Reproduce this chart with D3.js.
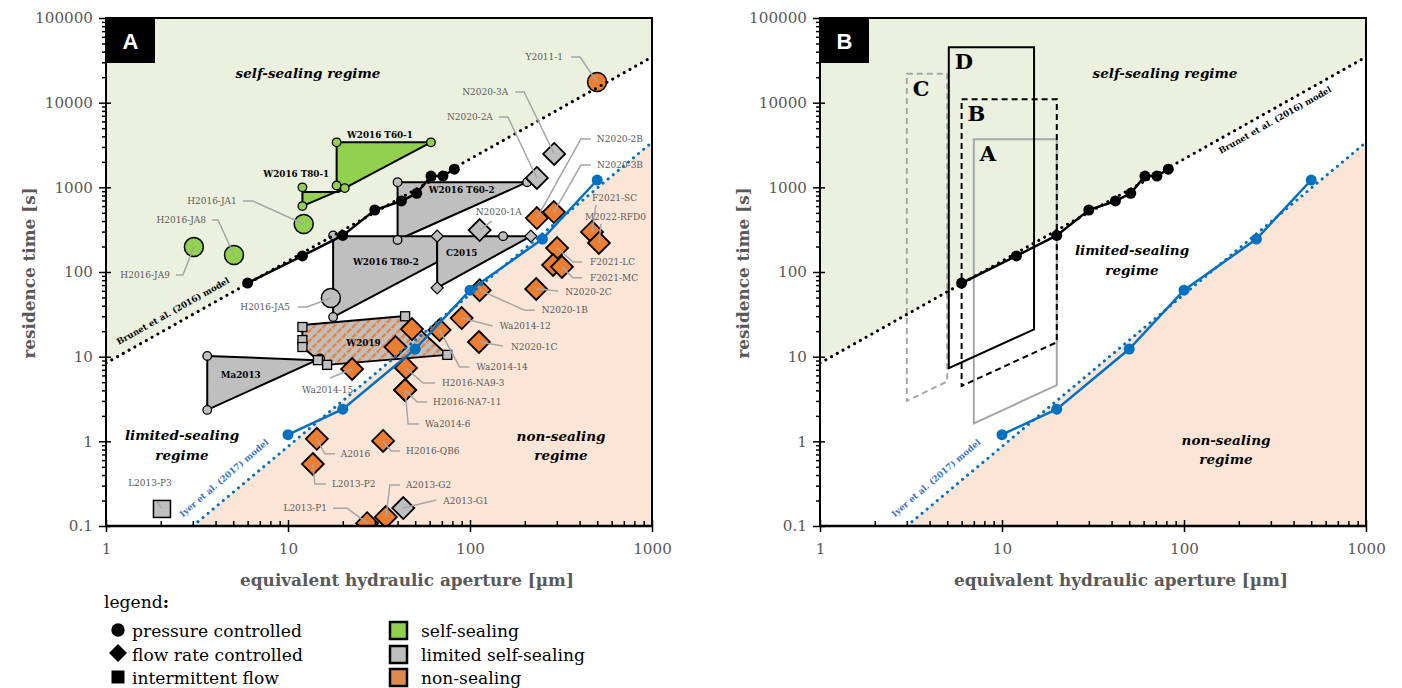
<!DOCTYPE html>
<html>
<head>
<meta charset="utf-8">
<script src="https://cdn.jsdelivr.net/npm/d3@7"></script>
<style>
  body { margin: 0; background: #fff; }
</style>
</head>
<body>
<svg id="chart" width="1402" height="688"></svg>
<script>
// ---- data (aperture in µm, residence time in s) ----
const brunetModelX = [1, 1000];
const brunetModelY = [8.4, 34600];
const iyerModelX = [3, 1000];
const iyerModelY = [0.1, 3400];

const brunetRunX = [6, 12, 20, 30, 42, 51, 61, 71, 82];
const brunetRunY = [74, 155, 270, 540, 690, 850, 1360, 1360, 1640];
const iyerRunX = [10, 20, 50, 100, 250, 500];
const iyerRunY = [1.2, 2.4, 12.3, 61, 245, 1220];

// experiment envelopes
const w2016T601 = [[18.5, 3400], [61, 3400], [20.5, 980], [18.5, 1050]];
const w2016T801 = [[12, 1000], [12, 880], [19, 880], [20.5, 980], [12, 600]];
const w2016T602 = [[40, 1150], [206, 1150], [40, 239]];
const w2016T802 = [[17.7, 265], [66, 265], [66, 131], [17.7, 29.4]];
const c2015 = [[66, 265], [216, 265], [66, 65]];
const ma2013 = [[3.6, 10.2], [14.4, 9.1], [3.6, 2.35]];
const w2019 = [[12, 23.7], [44, 30.2], [75, 10.5], [16.4, 8], [14.6, 9.1], [12, 13]];

const greenVertexCircles = [[18.5, 3400], [61, 3400], [18.5, 1050], [20.5, 980], [12, 1000], [12, 600]];
const grayVertexCircles = [[40, 1150], [206, 1150], [40, 239], [17.7, 270], [17.7, 29.4], [152, 265], [3.6, 10.2], [3.6, 2.35], [15, 9.5]];
const grayVertexDiamonds = [[66, 265], [216, 265], [66, 65]];
const grayVertexSquares = [[12, 22.4], [12, 15.7], [12, 13], [14.6, 9.1], [16.4, 8], [44, 30], [75, 10.5]];

const groupNames = ['W2016 T60-1', 'W2016 T80-1', 'W2016 T60-2', 'W2016 T80-2', 'C2015', 'Ma2013', 'W2019'];
const groupLabelX = [32, 11.1, 90, 34.5, 90, 5.5, 26];
const groupLabelY = [4150, 1440, 930, 131, 167, 6.1, 14.5];

// single tests
const diamondNames = ['N2020-1A', 'N2020-2A', 'N2020-3A', 'A2013-G1', 'N2020-2B', 'N2020-3B', 'F2021-SC', 'M2022-RFD0',
  'F2021-LC', '', 'F2021-MC', 'N2020-2C', 'N2020-1B', 'Wa2014-12', 'N2020-1C', 'Wa2014-14', '', '', 'H2016-NA9-3',
  'H2016-NA7-11', 'Wa2014-6', 'Wa2014-15', 'A2016', 'L2013-P2', 'H2016-QB6', 'L2013-P1', 'A2013-G2'];
const diamondX = [113, 233, 290, 43, 233, 289, 468, 511, 301, 286, 320, 231, 113, 90, 112, 68, 48, 39, 44.5,
  44, 44, 22.5, 14.4, 13.7, 33.3, 27.2, 34.5];
const diamondY = [313, 1290, 2480, 0.163, 434, 511, 297, 220, 192, 121, 115, 63, 61, 28.6, 14.9, 20.7, 21.2, 13, 7.35,
  4.04, 4.04, 7.15, 1.07, 0.54, 1.01, 0.108, 0.128];
const diamondRegime = ['limited', 'limited', 'limited', 'limited', 'non', 'non', 'non', 'non', 'non', 'non', 'non', 'non',
  'non', 'non', 'non', 'non', 'non', 'non', 'non', 'non', 'non', 'non', 'non', 'non', 'non', 'non', 'non'];

const circleNames = ['H2016-JA1', 'H2016-JA8', 'H2016-JA9', 'H2016-JA5', 'Y2011-1'];
const circleX = [12.2, 5.05, 3.04, 17.2, 499];
const circleY = [369, 159, 197, 49.3, 17540];
const circleRegime = ['self', 'self', 'self', 'limited', 'non'];

const squareNames = ['L2013-P3'];
const squareX = [2.03];
const squareY = [0.159];
const squareRegime = ['limited'];

// panel B envelopes
const boxA = [[7, 3700], [20, 3700], [20, 4.6], [7, 1.63]];
const boxB = [[6, 11000], [20, 11000], [20, 14.8], [6, 4.5]];
const boxC = [[3, 22000], [5, 22000], [5, 5.1], [3, 3]];
const boxD = [[5.1, 45000], [15, 45000], [15, 21], [5.1, 7.3]];

// ---- layout / style ----
const SERIF = '"DejaVu Serif", serif';
const fills = { self: '#92d050', limited: '#bfbfbf', non: '#ed7d31' };
const W = 546, H = 508;

// label offsets from the marker, px: [textDx, textDy, anchor, leader bends]
const annot = {
  'Y2011-1': [-34, -25, 'end', [[-26, -25], [-17, -25]]],
  'N2020-3A': [-46, -62, 'end', [[-39, -62], [-30, -62]]],
  'N2020-2A': [-44, -61, 'end', [[-38, -61], [-29, -61]]],
  'N2020-2B': [60, -79, 'start', [[54, -79], [44, -79]]],
  'N2020-3B': [43, -47, 'start', [[37, -47], [27, -47]]],
  'F2021-SC': [0, -34, 'start', [[4, -27]]],
  'M2022-RFD0': [-14, -26, 'start', [[2, -19]]],
  'F2021-LC': [33, 14, 'start', [[25, 14], [16, 14]]],
  'F2021-MC': [28, 11, 'start', [[20, 11], [11, 11]]],
  'N2020-2C': [29, 3, 'start', [[22, 2]]],
  'N2020-1B': [62, 20, 'start', [[55, 20], [45, 20]]],
  'Wa2014-12': [38, 8, 'start', [[31, 8]]],
  'N2020-1C': [32, 5, 'start', [[24, 4]]],
  'Wa2014-14': [37, 37, 'start', [[30, 37], [20, 37]]],
  'H2016-NA9-3': [36, 15, 'start', [[29, 15], [17, 15]]],
  'H2016-NA7-11': [28, 12, 'start', [[22, 12], [12, 12]]],
  'Wa2014-6': [20, 34, 'start', [[14, 34], [3, 34]]],
  'Wa2014-15': [-50, 21, 'start', [[-22, 9]]],
  'H2016-QB6': [23, 10, 'start', [[17, 10], [8, 10]]],
  'A2016': [24, 15, 'start', [[18, 15], [8, 15]]],
  'L2013-P2': [19, 20, 'start', [[13, 20], [2, 20]]],
  'L2013-P1': [-40, -15, 'end', [[-34, -15], [-20, -15]]],
  'A2013-G2': [20, -32, 'start', [[14, -32], [4, -32]]],
  'A2013-G1': [40, -7, 'start', [[33, -8]]],
  'L2013-P3': [-12, -26, 'middle', [[-5, -7]]],
  'H2016-JA5': [-41, 9, 'end', [[-33, 9], [-24, 9]]],
  'N2020-1A': [-4, -18, 'start', [[12, -9]]],
  'H2016-JA1': [-67, -23, 'end', [[-61, -23], [-51, -23]]],
  'H2016-JA8': [-28, -35, 'end', [[-22, -35], [-16, -35]]],
  'H2016-JA9': [-24, 28, 'end', [[-18, 28], [-11, 28]]]
};

const svg = d3.select('#chart');
const defs = svg.append('defs');

const x = d3.scaleLog().domain([1, 1000]).range([0, W]);
const y = d3.scaleLog().domain([0.1, 100000]).range([H, 0]);
const line = d3.line().x(d => x(d[0])).y(d => y(d[1]));
const zip = (a, b) => a.map((v, i) => [v, b[i]]);
const isMajor = v => Math.abs(Math.log10(v) - Math.round(Math.log10(v))) < 1e-6;

function fitSize(str, target, weight = 'normal', style = 'normal') {
  const t = svg.append('text').attr('font-family', SERIF).attr('font-size', 20)
    .attr('font-weight', weight).attr('font-style', style).text(str);
  const w = t.node().getComputedTextLength();
  t.remove();
  return 20 * target / w;
}

const titleSize = fitSize('equivalent hydraulic aperture [µm]', 334, 'bold');
const regimeSize = fitSize('self-sealing regime', 145, 'bold', 'italic');
const legendSize = fitSize('pressure controlled', 170);
const tickFont = fitSize('100', 29);
const ptSize = fitSize('N2020-3A', 46);
const groupSize = fitSize('W2016 T60-1', 66, 'bold');
const brunetSize = fitSize('Brunet et al. (2016) model', 128, 'bold');
const iyerSize = fitSize('Iyer et al. (2017) model', 114, 'bold');

const hatch = defs.append('pattern').attr('id', 'hatch').attr('patternUnits', 'userSpaceOnUse')
  .attr('width', 7).attr('height', 7).attr('patternTransform', 'rotate(45)');
hatch.append('rect').attr('width', 7).attr('height', 7).attr('fill', '#bfbfbf');
hatch.append('line').attr('x1', 1).attr('y1', 0).attr('x2', 1).attr('y2', 7)
  .attr('stroke', '#ed7d31').attr('stroke-width', 2.5).attr('stroke-dasharray', '3,1.5');

defs.append('clipPath').attr('id', 'plotClip').append('rect').attr('width', W).attr('height', H);

const diamondPath = h => `M0,${-h}L${h},0L0,${h}L${-h},0Z`;

function text(g, px, py, str, size, opts = {}) {
  return g.append('text').attr('x', px).attr('y', py).attr('dy', '0.35em')
    .attr('text-anchor', opts.anchor || 'middle')
    .attr('font-family', SERIF).attr('font-size', size)
    .attr('font-weight', opts.weight || 'normal').attr('font-style', opts.style || 'normal')
    .attr('fill', opts.fill || '#000').text(str);
}

function panel(ox, letter, under, over, regimes, brunetPos, iyerPos) {
  const g = svg.append('g').attr('transform', `translate(${ox},18)`);
  const c = g.append('g').attr('clip-path', 'url(#plotClip)');

  c.append('rect').attr('width', W).attr('height', H).attr('fill', '#fff');
  const bm = zip(brunetModelX, brunetModelY);
  const im = zip(iyerModelX, iyerModelY);
  c.append('path').attr('d', line(bm.concat([[1000, 100000], [1, 100000]])) + 'Z').attr('fill', '#ebf1de');
  c.append('path').attr('d', line(im.concat([[1000, 0.1]])) + 'Z').attr('fill', '#fbe5d6');

  under(c);

  // model lines
  c.append('path').attr('d', line(bm)).attr('fill', 'none').attr('stroke', '#000')
    .attr('stroke-width', 3).attr('stroke-linecap', 'round').attr('stroke-dasharray', '0.1,6.5');
  c.append('path').attr('d', line(im)).attr('fill', 'none').attr('stroke', '#0070c0')
    .attr('stroke-width', 3).attr('stroke-linecap', 'round').attr('stroke-dasharray', '0.1,6.5');

  // experimental runs
  [[zip(brunetRunX, brunetRunY), '#000'], [zip(iyerRunX, iyerRunY), '#0070c0']].forEach(([pts, col]) => {
    c.append('path').attr('d', line(pts)).attr('fill', 'none').attr('stroke', col).attr('stroke-width', 2.5);
    c.selectAll(null).data(pts).enter().append('circle')
      .attr('cx', d => x(d[0])).attr('cy', d => y(d[1])).attr('r', 5.5).attr('fill', col);
  });

  over(g);

  // regime labels
  regimes.forEach(r => text(g, r[0], r[1], r[2], regimeSize, { weight: 'bold', style: 'italic' }));
  text(g, brunetPos[0], brunetPos[1], 'Brunet et al. (2016) model', brunetSize, { weight: 'bold' })
    .attr('transform', `rotate(-29.4,${brunetPos[0]},${brunetPos[1]})`);
  text(g, iyerPos[0], iyerPos[1], 'Iyer et al. (2017) model', iyerSize, { weight: 'bold', fill: '#3a73c6' })
    .attr('transform', `rotate(-40.7,${iyerPos[0]},${iyerPos[1]})`);

  // axes
  const yAll = [];
  for (let e = -1; e < 5; e++) for (let m = 1; m < 10; m++) yAll.push(+(m * Math.pow(10, e)).toPrecision(3));
  yAll.push(100000);
  const xAll = [];
  for (let e = 0; e < 3; e++) for (let m = 1; m < 10; m++) xAll.push(m * Math.pow(10, e));
  xAll.push(1000);

  const ya = g.append('g').call(d3.axisLeft(y).tickValues(yAll).tickSize(4).tickSizeOuter(0).tickPadding(9)
    .tickFormat(v => isMajor(v) ? (v < 1 ? '0.1' : d3.format('d')(v)) : ''));
  ya.selectAll('.tick line').attr('x2', v => isMajor(v) ? -7 : -4).attr('x1', v => isMajor(v) ? 5 : 0)
    .attr('stroke-width', 1.5);
  const xa = g.append('g').attr('transform', `translate(0,${H})`)
    .call(d3.axisBottom(x).tickValues(xAll).tickSize(-5).tickSizeOuter(0).tickPadding(17)
      .tickFormat(v => isMajor(v) ? d3.format('d')(v) : ''));
  xa.selectAll('.tick line').attr('y2', v => isMajor(v) ? -6 : -5).attr('y1', v => isMajor(v) ? 6 : 0)
    .attr('stroke-width', 1.5);
  [ya, xa].forEach(a => {
    a.select('.domain').remove();
    a.selectAll('text').attr('font-family', SERIF).attr('font-size', tickFont).attr('fill', '#595959');
  });
  g.append('rect').attr('width', W).attr('height', H).attr('fill', 'none').attr('stroke', '#000').attr('stroke-width', 2);
  g.append('line').attr('x1', 0).attr('x2', W).attr('y1', H).attr('y2', H).attr('stroke', '#000').attr('stroke-width', 2.5);

  text(g, W / 2 + 28, 562, 'equivalent hydraulic aperture [µm]', titleSize, { weight: 'bold', fill: '#595959' });
  text(g, -77, H / 2 + 1, 'residence time [s]', titleSize, { weight: 'bold', fill: '#595959' })
    .attr('transform', `rotate(-90,-77,${H / 2 + 1})`);

  // panel tag
  g.append('rect').attr('width', 49).attr('height', 45).attr('fill', '#000');
  g.append('text').attr('x', 24.5).attr('y', 23).attr('dy', '0.36em').attr('text-anchor', 'middle')
    .attr('font-family', '"Liberation Sans", Arial, sans-serif').attr('font-weight', 'bold')
    .attr('font-size', 22).attr('fill', '#fff').text(letter);
  return g;
}

// ---- panel A ----
panel(106, 'A', c => {
  const polys = [[w2016T602, fills.limited], [w2016T802, fills.limited], [c2015, fills.limited],
    [ma2013, fills.limited], [w2019, 'url(#hatch)'], [w2016T601, fills.self], [w2016T801, fills.self]];
  polys.forEach(([pts, f]) => c.append('path').attr('d', line(pts) + 'Z').attr('fill', f)
    .attr('stroke', '#000').attr('stroke-width', 2).attr('stroke-linejoin', 'round'));

  c.selectAll(null).data(greenVertexCircles).enter().append('circle')
    .attr('cx', d => x(d[0])).attr('cy', d => y(d[1])).attr('r', 4.3)
    .attr('fill', fills.self).attr('stroke', '#000').attr('stroke-width', 1.3);
  c.selectAll(null).data(grayVertexCircles).enter().append('circle')
    .attr('cx', d => x(d[0])).attr('cy', d => y(d[1])).attr('r', 4.3)
    .attr('fill', fills.limited).attr('stroke', '#000').attr('stroke-width', 1.3);
  c.selectAll(null).data(grayVertexDiamonds).enter().append('path')
    .attr('transform', d => `translate(${x(d[0])},${y(d[1])})`).attr('d', diamondPath(6))
    .attr('fill', fills.limited).attr('stroke', '#000').attr('stroke-width', 1.3);
  c.selectAll(null).data(grayVertexSquares).enter().append('rect')
    .attr('x', d => x(d[0]) - 4.5).attr('y', d => y(d[1]) - 4.5).attr('width', 9).attr('height', 9)
    .attr('fill', fills.limited).attr('stroke', '#000').attr('stroke-width', 1.3);

  diamondX.forEach((v, i) => c.append('path')
    .attr('transform', `translate(${x(v)},${y(diamondY[i])})`).attr('d', diamondPath(11))
    .attr('fill', fills[diamondRegime[i]]).attr('stroke', '#000').attr('stroke-width', 1.8));
  circleX.forEach((v, i) => c.append('circle')
    .attr('cx', x(v)).attr('cy', y(circleY[i])).attr('r', 9.5)
    .attr('fill', fills[circleRegime[i]]).attr('stroke', '#000').attr('stroke-width', 1.5));
  squareX.forEach((v, i) => c.append('rect')
    .attr('x', x(v) - 8.5).attr('y', y(squareY[i]) - 8.5).attr('width', 17).attr('height', 17)
    .attr('fill', fills[squareRegime[i]]).attr('stroke', '#000').attr('stroke-width', 1.5));
}, g => {
  const lab = (names, xs, ys) => names.forEach((n, i) => {
    const a = annot[n];
    if (!a) return;
    const px = x(xs[i]), py = y(ys[i]);
    const pts = a[3].map(p => [px + p[0], py + p[1]]).concat([[px, py]]);
    g.append('path').attr('d', d3.line()(pts)).attr('fill', 'none').attr('stroke', '#a6a6a6').attr('stroke-width', 1.5);
    text(g, px + a[0], py + a[1], n, ptSize, { anchor: a[2], fill: '#595959' });
  });
  lab(diamondNames, diamondX, diamondY);
  lab(circleNames, circleX, circleY);
  lab(squareNames, squareX, squareY);
  groupNames.forEach((n, i) => text(g, x(groupLabelX[i]), y(groupLabelY[i]), n, groupSize, { weight: 'bold' }));
}, [[202, 55, 'self-sealing regime'], [76, 417, 'limited-sealing'], [76, 437, 'regime'],
  [455, 418, 'non-sealing'], [455, 437, 'regime']], [67, 293], [118, 460]);

// ---- panel B ----
const boxes = [[boxC, '#a6a6a6', '6,4', 'C'], [boxA, '#a6a6a6', null, 'A'], [boxB, '#000', '6,4', 'B'], [boxD, '#000', null, 'D']];
panel(820, 'B', c => {
  boxes.forEach(([pts, col, dash]) => c.append('path').attr('d', line(pts) + 'Z').attr('fill', 'none')
    .attr('stroke', col).attr('stroke-width', 2).attr('stroke-dasharray', dash));
}, g => {
  boxes.forEach(([pts, , , name]) => g.append('text')
    .attr('x', x(pts[0][0]) + 6).attr('y', y(pts[0][1]) + 22)
    .attr('font-family', SERIF).attr('font-weight', 'bold').attr('font-size', 21).text(name));
}, [[345, 55, 'self-sealing regime'], [312, 232, 'limited-sealing'], [312, 252, 'regime'],
  [406, 422, 'non-sealing'], [406, 441, 'regime']], [455, 102], [116, 460]);

// ---- legend ----
const lg = svg.append('g');
lg.append('text').attr('x', 104).attr('y', 608).attr('font-family', SERIF).attr('font-size', legendSize)
  .text('legend').append('tspan').attr('font-weight', 'bold').text(':');
lg.append('circle').attr('cx', 118).attr('cy', 630).attr('r', 6.7);
lg.append('path').attr('transform', 'translate(118,653)').attr('d', diamondPath(9));
lg.append('rect').attr('x', 111.5).attr('y', 670.5).attr('width', 13).attr('height', 13);
const legendLeft = ['pressure controlled', 'flow rate controlled', 'intermittent flow'];
const legendRight = ['self-sealing', 'limited self-sealing', 'non-sealing'];
const legendFill = ['#92d050', '#bfbfbf', '#dd8a4f'];
const legendRows = [637, 661, 684];
legendLeft.forEach((s, i) => lg.append('text').attr('x', 132).attr('y', legendRows[i])
  .attr('font-family', SERIF).attr('font-size', legendSize).text(s));
legendRight.forEach((s, i) => {
  lg.append('rect').attr('x', 390).attr('y', legendRows[i] - 15).attr('width', 17).attr('height', 17)
    .attr('fill', legendFill[i]).attr('stroke', '#000').attr('stroke-width', 2.5);
  lg.append('text').attr('x', 421).attr('y', legendRows[i])
    .attr('font-family', SERIF).attr('font-size', legendSize).text(s);
});
</script>
</body>
</html>
